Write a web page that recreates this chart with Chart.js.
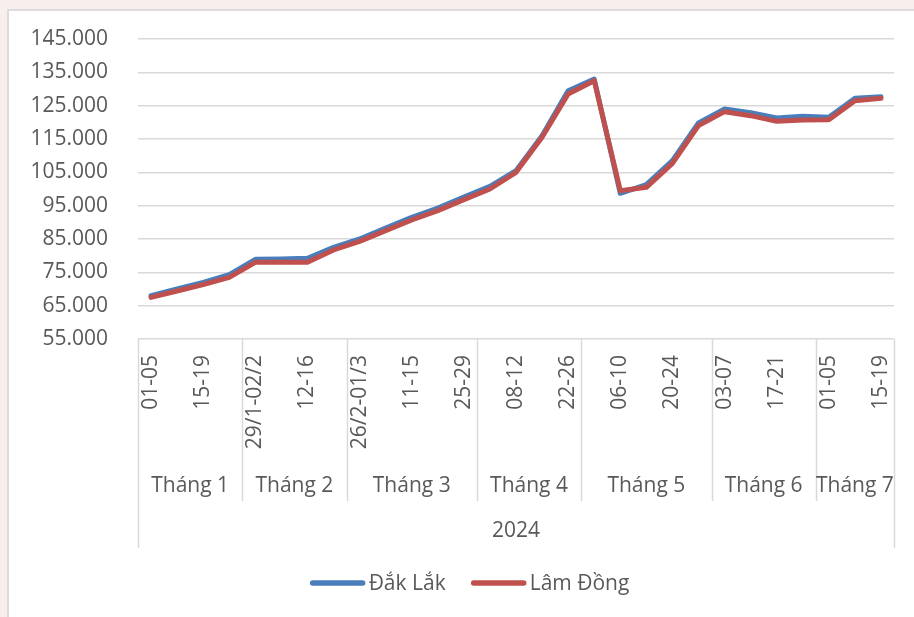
<!DOCTYPE html>
<html>
<head>
<meta charset="utf-8">
<script src="https://cdn.jsdelivr.net/npm/chart.js@4.4.1/dist/chart.umd.min.js"></script>
<style>
  html, body { margin: 0; padding: 0; width: 914px; height: 617px; overflow: hidden; background: #f8efed; }
  #box { position: absolute; left: 7px; top: 9px; width: 1000px; height: 700px; background: #ffffff; border: 2px solid #dcdcdc; }
  #c { position: absolute; left: 0; top: 0; }
</style>
</head>
<body>
<div id="box"></div>
<canvas id="c" width="914" height="617"></canvas>
<script>
// ---- data ----
const weekLabels = ['01-05','08-12','15-19','22-26','29/1-02/2','05-09','12-16','19-23','26/2-01/3','04-08','11-15','18-22','25-29','01-05','08-12','15-19','22-26','29/4-03/5','06-10','13-17','20-24','27-31','03-07','10-14','17-21','24-28','01-05','08-12','15-19'];
const monthLabels = ['Tháng 1','Tháng 2','Tháng 3','Tháng 4','Tháng 5','Tháng 6','Tháng 7'];
const monthSpans = [4, 4, 5, 4, 5, 4, 3];
const yearLabel = '2024';
const seriesNames = ['Đắk Lắk', 'Lâm Đồng'];
const dakLak  = [68000, 70000, 72000, 74300, 78900, 79000, 79200, 82500, 85000, 88300, 91500, 94300, 97600, 100800, 105500, 116000, 129500, 133000, 98700, 101300, 108500, 119800, 124000, 122900, 121300, 121800, 121500, 127200, 127700];
const lamDong = [67500, 69400, 71300, 73500, 78000, 78000, 78000, 81700, 84300, 87500, 90700, 93500, 96800, 100000, 105000, 115500, 128500, 132500, 99500, 100500, 107700, 119000, 123200, 122000, 120300, 120700, 120800, 126500, 127200];
const yMin = 55000, yMax = 145000, yStep = 10000;

const FONT = "'Open Sans', 'Noto Sans', sans-serif";
const TEXT = '#595959';
const GRID = '#d9d9d9';
const BLUE = '#4a7ebb';
const RED = '#c0504d';

const groupPlugin = {
  id: 'groups',
  afterDraw(chart) {
    const ctx = chart.ctx;
    const x = chart.scales.x;
    const area = chart.chartArea;
    const b = area.bottom;
    ctx.save();
    ctx.strokeStyle = GRID;
    ctx.lineWidth = 1.5;
    let idx = 0;
    const edges = [area.left];
    monthSpans.forEach(n => {
      idx += n;
      if (idx < weekLabels.length) {
        edges.push((x.getPixelForValue(idx - 1) + x.getPixelForValue(idx)) / 2);
      } else {
        edges.push(area.right);
      }
    });
    edges.forEach((ex, i) => {
      const outer = (i === 0 || i === edges.length - 1);
      ctx.beginPath();
      ctx.moveTo(Math.round(ex) + 0.5, b);
      ctx.lineTo(Math.round(ex) + 0.5, b + (outer ? 209 : 162));
      ctx.stroke();
    });
    ctx.fillStyle = TEXT;
    ctx.font = "21px " + FONT;
    ctx.textAlign = 'center';
    ctx.textBaseline = 'middle';
    monthLabels.forEach((m, i) => {
      ctx.fillText(m, (edges[i] + edges[i + 1]) / 2, b + 147);
    });
    ctx.fillText(yearLabel, (area.left + area.right) / 2, b + 192);

    // legend
    const colors = [BLUE, RED];
    const sample = 54, gap = 4, spacing = 26;
    const widths = seriesNames.map(s => ctx.measureText(s).width);
    const total = widths.reduce((a, w) => a + sample + gap + w, 0) + spacing;
    let lx = 470 - total / 2;
    const ly = 583;
    ctx.textAlign = 'left';
    seriesNames.forEach((s, i) => {
      ctx.strokeStyle = colors[i];
      ctx.lineWidth = 5.5;
      ctx.lineCap = 'round';
      ctx.beginPath();
      ctx.moveTo(lx + 2, ly);
      ctx.lineTo(lx + sample - 2, ly);
      ctx.stroke();
      ctx.fillText(s, lx + sample + gap, ly + 1);
      lx += sample + gap + widths[i] + spacing;
    });
    ctx.restore();
  }
};

new Chart(document.getElementById('c'), {
  type: 'line',
  data: {
    labels: weekLabels,
    datasets: [
      { label: seriesNames[0], data: dakLak, borderColor: BLUE, backgroundColor: BLUE, borderWidth: 5, pointRadius: 0, tension: 0, order: 1, borderJoinStyle: 'round', borderCapStyle: 'round' },
      { label: seriesNames[1], data: lamDong, borderColor: RED, backgroundColor: RED, borderWidth: 5, pointRadius: 0, tension: 0, order: 0, borderJoinStyle: 'round', borderCapStyle: 'round' }
    ]
  },
  options: {
    responsive: false,
    devicePixelRatio: 1,
    animation: false,
    layout: { padding: { left: 0, top: 39, right: 20, bottom: 68 } },
    plugins: { legend: { display: false }, tooltip: { enabled: false } },
    scales: {
      x: {
        type: 'category',
        offset: true,
        grid: { display: false },
        border: { display: false },
        ticks: {
          autoSkip: false,
          minRotation: 90,
          maxRotation: 90,
          padding: 8,
          color: TEXT,
          font: { family: FONT, size: 21 },
          callback: (v, i) => (i % 2 === 0 ? weekLabels[i] : '')
        },
        afterFit: (s) => { s.height = 210; s.paddingLeft = 0; s.paddingRight = 0; }
      },
      y: {
        min: yMin,
        max: yMax,
        grid: { color: GRID, lineWidth: 1.5, drawTicks: false },
        border: { display: false },
        ticks: {
          stepSize: yStep,
          padding: 30,
          color: TEXT,
          font: { family: FONT, size: 21 },
          callback: (v) => v.toLocaleString('de-DE').replace(/,/g, '.')
        },
        afterFit: (s) => { s.width = 138; s.paddingTop = 0; s.paddingBottom = 0; }
      }
    }
  },
  plugins: [groupPlugin]
});
</script>
</body>
</html>
